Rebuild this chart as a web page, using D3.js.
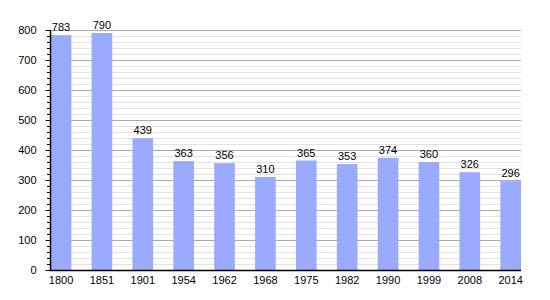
<!DOCTYPE html>
<html><head><meta charset="utf-8">
<script src="https://cdn.jsdelivr.net/npm/d3@7"></script>
<style>body{margin:0;background:#fff}svg{display:block}text{font-family:"Liberation Sans",Arial,sans-serif;fill:#000}</style>
</head><body><svg id="c" width="550" height="300"></svg>
<script>
const years = ["1800","1851","1901","1954","1962","1968","1975","1982","1990","1999","2008","2014"];
const population = [783,790,439,363,356,310,365,353,374,360,326,296];
const yTicks = [0,100,200,300,400,500,600,700,800];

(function(){
const svg = d3.select("#c");
const mLeft = 50, mRight = 521, mTop = 30, mBottom = 270;
const x = d3.scaleBand().domain(years).range([mLeft+0.7, mRight]).paddingInner(0.495).paddingOuter(0);
const y = d3.scaleLinear().domain([0,800]).range([mBottom, mTop]);

const minor = d3.range(0, 801, 20).filter(v => v % 100 !== 0);
svg.append("g").selectAll("line").data(minor).join("line")
  .attr("x1", mLeft).attr("x2", mRight).attr("y1", d => y(d)+0.5).attr("y2", d => y(d)+0.5)
  .attr("stroke", "#e2e2e2").attr("stroke-width", 1);
svg.append("g").selectAll("line").data(yTicks.filter(v=>v>0)).join("line")
  .attr("x1", mLeft).attr("x2", mRight).attr("y1", d => y(d)+0.5).attr("y2", d => y(d)+0.5)
  .attr("stroke", "#aaaaaa").attr("stroke-width", 1);

svg.append("g").selectAll("rect").data(population).join("rect")
  .attr("x", (d,i) => x(years[i])).attr("width", x.bandwidth())
  .attr("y", d => y(d)).attr("height", d => mBottom - y(d))
  .attr("fill", "#99aaff");

svg.append("g").selectAll("text").data(population).join("text")
  .attr("x", (d,i) => x(years[i]) + x.bandwidth()/2).attr("y", d => y(d) - 4)
  .attr("text-anchor", "middle").attr("font-size", 11).text(d => d);

const ya = svg.append("g").attr("transform", `translate(${mLeft+0.5},0)`)
  .call(d3.axisLeft(y).tickValues(yTicks).tickSize(5).tickPadding(9));
ya.select(".domain").remove();
ya.selectAll("text").attr("font-size", 11).style("font-family", '"Liberation Sans",Arial,sans-serif');
svg.append("g").selectAll("line").data(minor).join("line")
  .attr("x1", mLeft-3).attr("x2", mLeft).attr("y1", d => y(d)+0.5).attr("y2", d => y(d)+0.5)
  .attr("stroke", "#000");
svg.append("line").attr("x1", mLeft+0.5).attr("x2", mLeft+0.5).attr("y1", mTop).attr("y2", mBottom+1).attr("stroke", "#000").attr("stroke-width", 1.5);

const xa = svg.append("g").attr("transform", `translate(0,${mBottom})`)
  .call(d3.axisBottom(x).tickSize(0).tickPadding(6));
xa.select(".domain").remove();
xa.selectAll("text").attr("font-size", 11).style("font-family", '"Liberation Sans",Arial,sans-serif');
svg.append("line").attr("x1", mLeft).attr("x2", mRight).attr("y1", mBottom+0.5).attr("y2", mBottom+0.5).attr("stroke", "#000").attr("stroke-width", 1.5);
})();
</script></body></html>
